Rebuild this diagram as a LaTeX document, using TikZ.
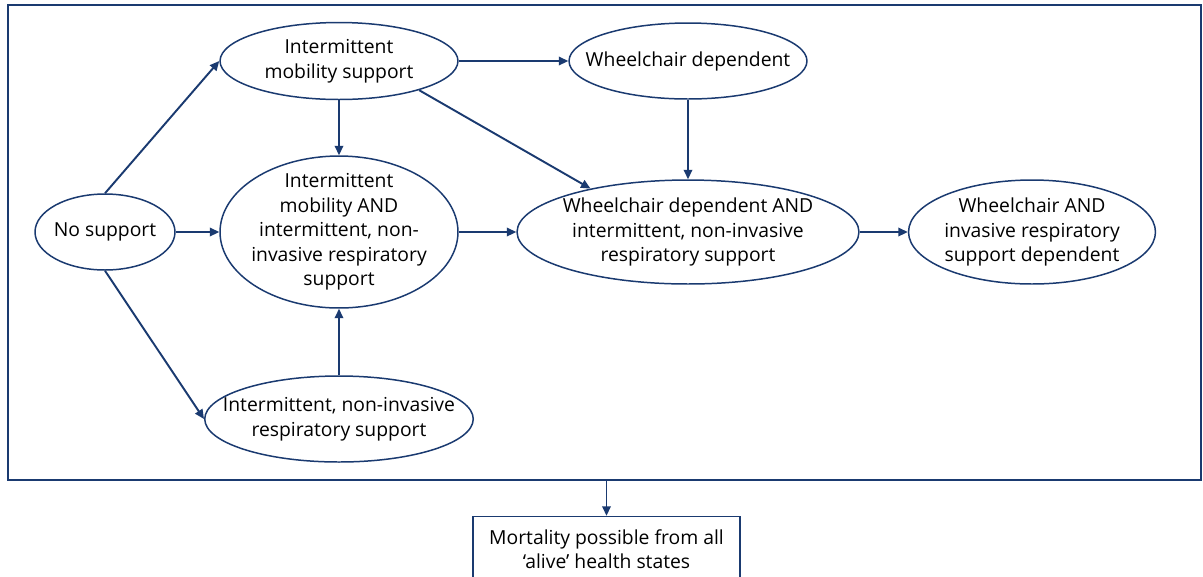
\documentclass[tikz,border=0pt]{standalone}
\usepackage{fontspec}
\setmainfont{Open Sans}
\usepackage{tikz}
\usetikzlibrary{shapes.geometric, arrows.meta, positioning, calc}
\definecolor{navy}{RGB}{26, 58, 112}

\begin{document}
\begin{tikzpicture}[
    x=0.02cm, y=-0.02cm,
    state/.style={ellipse, draw=navy, line width=0.85pt, fill=white, align=center, inner sep=-12pt, font=\fontsize{11}{14}\selectfont},
    frame/.style={rectangle, draw=navy, line width=0.85pt, inner sep=0pt},
    note/.style={rectangle, draw=navy, line width=0.85pt, align=center, inner sep=0pt, font=\fontsize{11}{14}\selectfont},
    line/.style={draw=navy, line width=1.1pt, -{Triangle[length=1.9mm, width=1.7mm]}}
]
    \useasboundingbox (0,0) rectangle (1203,576);

    % Frame
    \node [frame, minimum width=23.86cm, minimum height=9.5cm] (states) at (604.5,242.5) {};

    % Nodes
    \node [state, minimum width=2.8cm, minimum height=1.52cm] (nosup) at (105,232) {No support};
    \node [state, minimum width=4.76cm, minimum height=1.54cm] (ims) at (339,61) {Intermittent\\mobility support};
    \node [state, minimum width=4.76cm, minimum height=1.52cm] (wd) at (688,61) {Wheelchair dependent};
    \node [state, minimum width=4.76cm, minimum height=3.04cm] (imsnir) at (339,232) {Intermittent\\mobility AND\\intermittent, non-\\invasive respiratory\\support};
    \node [state, minimum width=6.84cm, minimum height=2.08cm] (wdnir) at (688,232) {Wheelchair dependent AND\\intermittent, non-invasive\\respiratory support};
    \node [state, minimum width=4.94cm, minimum height=2.08cm] (wdirs) at (1032,232) {Wheelchair AND\\invasive respiratory\\support dependent};
    \node [state, minimum width=5.28cm, minimum height=1.72cm] (nir) at (339,419) {Intermittent, non-invasive\\respiratory support};

    % Mortality
    \node [note, minimum width=5.34cm, minimum height=1.3cm] (mortality) at (606.5,549) {Mortality possible from all\\`alive' health states};

    % Paths
    \path [line] (nosup.north) -- (ims.west);
    \path [line] (nosup.east) -- (imsnir.west);
    \path [line] (nosup.south) -- (nir.west);
    \path [line] (ims.south) -- (imsnir.north);
    \path [line] (ims.east) -- (wd.west);
    \path [line] (ims.-20) -- (wdnir.156);
    \path [line] (wd.south) -- (wdnir.north);
    \path [line] (imsnir.east) -- (wdnir.west);
    \path [line] (wdnir.east) -- (wdirs.west);
    \path [line] (nir.north) -- (imsnir.south);
    \path [line] (states.south -| mortality.north) -- (mortality.north);

\end{tikzpicture}
\end{document}
